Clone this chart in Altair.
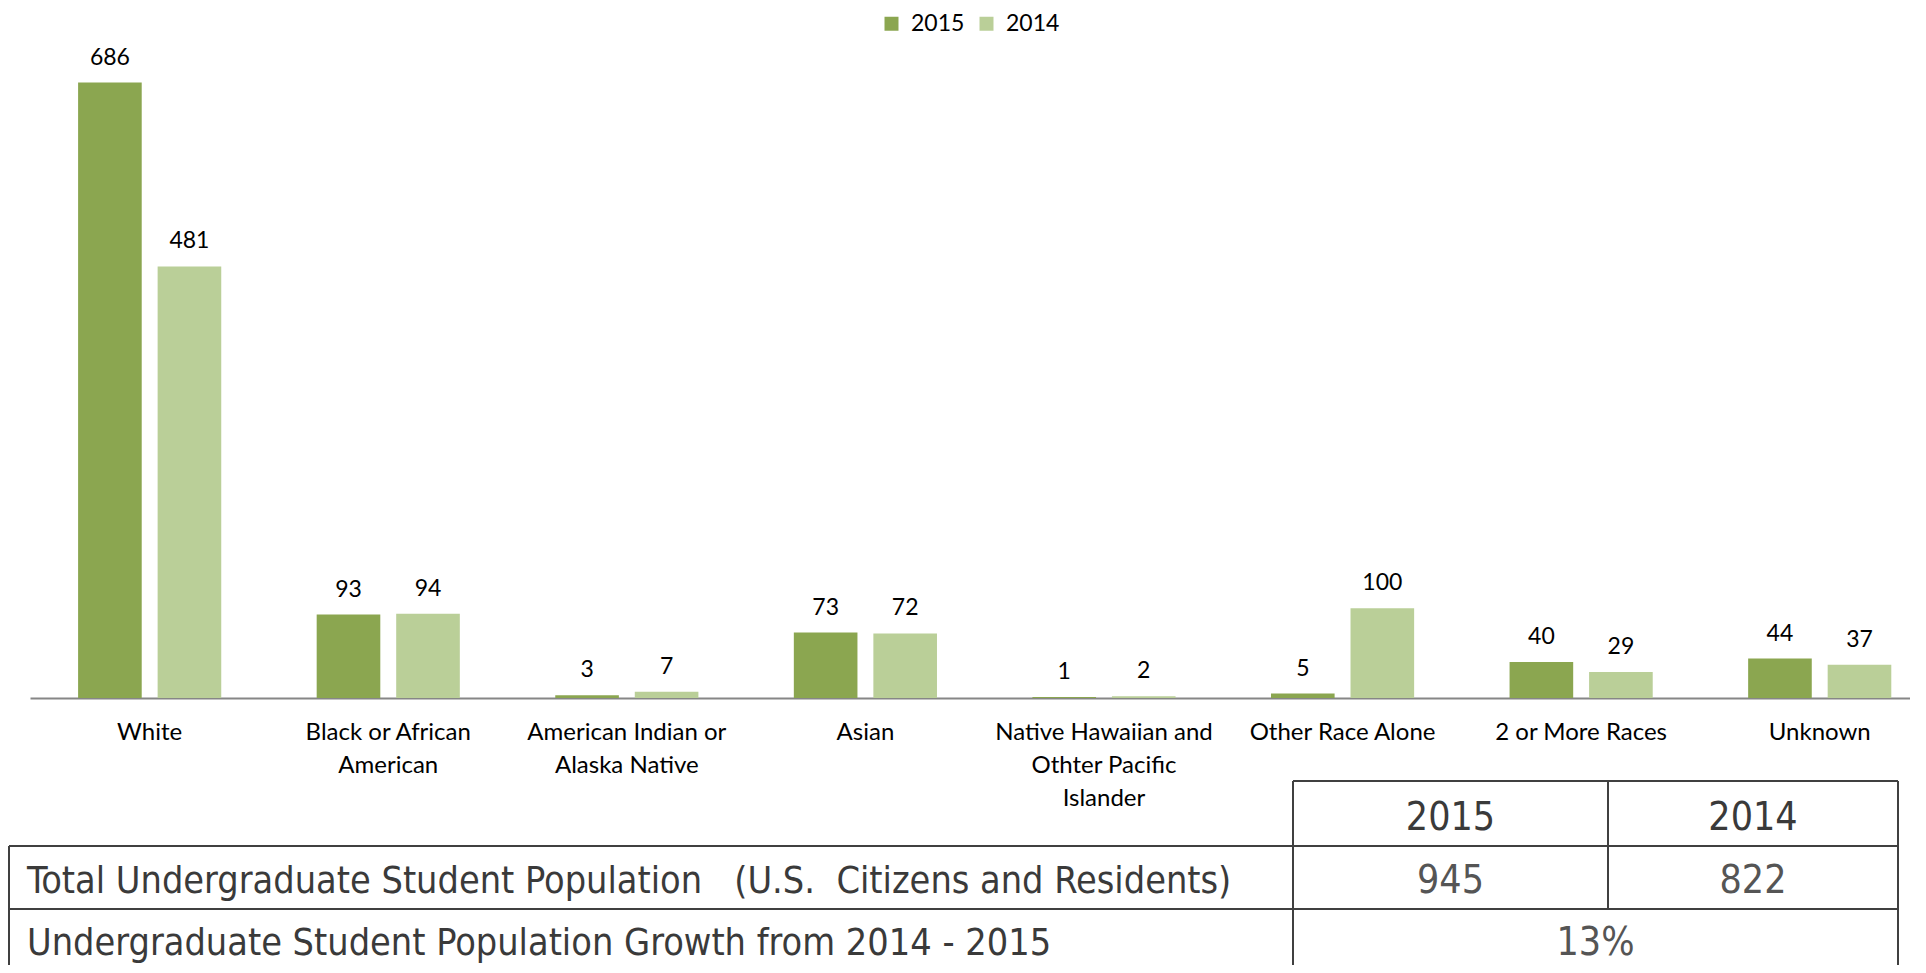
import json
import altair as alt
import pandas as pd

# ---------------- data ----------------
categories = [
    "White",
    "Black or African American",
    "American Indian or Alaska Native",
    "Asian",
    "Native Hawaiian and Othter Pacific Islander",
    "Other Race Alone",
    "2 or More Races",
    "Unknown",
]
category_lines = [
    ["White"],
    ["Black or African", "American"],
    ["American Indian or", "Alaska Native"],
    ["Asian"],
    ["Native Hawaiian and", "Othter Pacific", "Islander"],
    ["Other Race Alone"],
    ["2 or More Races"],
    ["Unknown"],
]
years = ["2015", "2014"]
values_2015 = [686, 93, 3, 73, 1, 5, 40, 44]
values_2014 = [481, 94, 7, 72, 2, 100, 29, 37]

table_header = ["2015", "2014"]
row_labels = [
    "Total Undergraduate Student Population   (U.S.  Citizens and Residents)",
    "Undergraduate Student Population Growth from 2014 - 2015",
]
total_population = ["945", "822"]
growth = "13%"

# ---------------- styling ----------------
C2015 = "#8BA650"
C2014 = "#BACF98"
LINE = "#404040"
TXT = "#3A3A3A"
NUM = "#555555"
CHART_FONT = "Lato"
TABLE_FONT = "DejaVu Sans Condensed, DejaVu Sans, sans-serif"

rows = []
for c, a, b in zip(categories, values_2015, values_2014):
    rows.append({"category": c, "year": years[0], "value": a})
    rows.append({"category": c, "year": years[1], "value": b})
df = pd.DataFrame(rows)

label_expr = "%s[indexof(%s, datum.value)]" % (json.dumps(category_lines), json.dumps(categories))

x_enc = alt.X(
    "category:N",
    sort=categories,
    scale=alt.Scale(paddingInner=0.4, paddingOuter=0.14, align=0.72),
    axis=alt.Axis(
        title=None,
        labelExpr=label_expr,
        ticks=False,
        labelAngle=0,
        labelFont=CHART_FONT,
        labelFontSize=24,
        labelColor="#000000",
        labelPadding=22,
        labelLineHeight=33,
        labelLimit=0,
        labelBound=False,
        labelOverlap=False,
        domainColor="#868686",
        domainWidth=2,
    ),
)
xo_enc = alt.XOffset("year:N", sort=years, scale=alt.Scale(paddingInner=0.2, paddingOuter=0))
y_enc = alt.Y("value:Q", scale=alt.Scale(domain=[0, 700]), axis=None)

base = alt.Chart(df)
bars = base.mark_bar().encode(
    x=x_enc,
    xOffset=xo_enc,
    y=y_enc,
    color=alt.Color(
        "year:N",
        sort=years,
        scale=alt.Scale(domain=years, range=[C2015, C2014]),
        legend=alt.Legend(
            title=None,
            orient="none",
            direction="horizontal",
            legendX=850,
            legendY=-58,
            symbolType="square",
            symbolSize=196,
            symbolStrokeWidth=0,
            labelFont=CHART_FONT,
            labelFontSize=23,
            labelColor="#000000",
            labelOffset=8,
            columnPadding=10,
            padding=0,
        ),
    ),
)
labels = base.mark_text(
    dy=-18, baseline="alphabetic", font=CHART_FONT, fontSize=23, color="#000000"
).encode(x=x_enc, xOffset=xo_enc, y=y_enc, text="value:Q")

one = pd.DataFrame({"k": [0]})


def hrule(x1, x2, y):
    return alt.Chart(one).mark_rule(color=LINE, strokeWidth=2).encode(
        x=alt.value(x1), x2=alt.value(x2), y=alt.value(y)
    )


def vrule(x, y1, y2):
    return alt.Chart(one).mark_rule(color=LINE, strokeWidth=2).encode(
        x=alt.value(x), y=alt.value(y1), y2=alt.value(y2)
    )


def cell(text, x, y, size, color, align="center"):
    return alt.Chart(one).mark_text(
        text=text, font=TABLE_FONT, fontSize=size, color=color, align=align, baseline="middle"
    ).encode(x=alt.value(x), y=alt.value(y))


# table layout (pixels relative to plot origin)
L, C1, C2, R = -21, 1263, 1578, 1868
T0, T1, T2, TB = 711, 776, 839, 910

table = [
    hrule(C1, R, T0),
    hrule(L, R, T1),
    hrule(L, R, T2),
    vrule(L, T1, TB),
    vrule(C1, T0, TB),
    vrule(C2, T0, T2),
    vrule(R, T0, TB),
    cell(table_header[0], (C1 + C2) / 2, 748, 39, TXT),
    cell(table_header[1], (C2 + R) / 2, 748, 39, TXT),
    cell(row_labels[0].replace("  ", " \u00a0"), -3, 812, 37.5, TXT, align="left"),
    cell(total_population[0], (C1 + C2) / 2, 811, 39, NUM),
    cell(total_population[1], (C2 + R) / 2, 811, 39, NUM),
    cell(row_labels[1], -3, 874, 37.5, TXT, align="left"),
    cell(growth, (C1 + R) / 2, 873, 39, NUM),
]

chart = alt.layer(bars, labels, *table).properties(
    width=1880,
    height=628,
    autosize=alt.AutoSizeParams(type="none"),
    padding={"left": 22, "top": 62, "right": 0, "bottom": 267},
).configure_view(strokeWidth=0)

chart.save("out.html", embed_options={"renderer": "svg", "actions": False})
